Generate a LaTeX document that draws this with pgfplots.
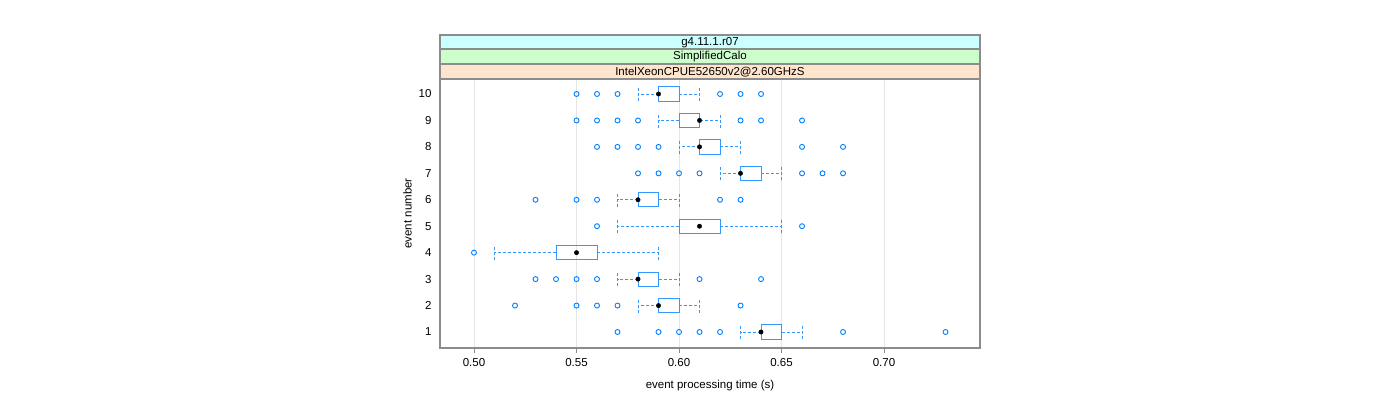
\documentclass[border=0pt]{standalone}
\usepackage{fontspec}
\setmainfont{Liberation Sans}
\usepackage{pgfplots}
\usepgfplotslibrary{statistics}
\pgfplotsset{compat=1.18}
\definecolor{lblue}{HTML}{0080FF}
\definecolor{boxblue}{HTML}{3399FF}
\definecolor{framegray}{HTML}{8C8C8C}
\definecolor{stripA}{HTML}{FFE5CC}
\definecolor{stripB}{HTML}{CCFFCC}
\definecolor{stripC}{HTML}{CCFFFF}
\pgfplotsset{
  bwbox/.style={draw=boxblue, solid, line width=0.9pt, mark=none,
    boxplot/draw direction=x,
    boxplot/box extend=0.54, boxplot/whisker extend=0.54,
    boxplot/every whisker/.style={dash pattern=on 3pt off 2pt},
    boxplot/every median/.style={draw=none}},
}
\begin{document}
\begin{tikzpicture}
\path[use as bounding box] (0,0) rectangle (1400pt,400pt);
\begin{axis}[
  at={(440pt,52pt)}, anchor=south west,
  scale only axis, width=540pt, height=269pt,
  xmin=0.4834, xmax=0.7468, ymin=0.395, ymax=10.567,
  xtick={0.50,0.55,0.60,0.65,0.70},
  xticklabels={0.50,0.55,0.60,0.65,0.70},
  ytick={1,2,3,4,5,6,7,8,9,10},
  yticklabels={1,2,3,4,5,6,7,8,9,10},
  xtick pos=bottom, ytick pos=left,
  tick align=outside, major tick length=5pt,
  x tick style={draw=framegray, line width=0.8pt},
  y tick style={draw=none},
  axis line style={draw=framegray, line width=1.1pt},
  xmajorgrids, grid style={draw=black!10, line width=0.6pt},
  tick label style={font=\fontsize{11.5}{13}\selectfont},
  xticklabel style={yshift=-2pt},
  label style={font=\fontsize{11.5}{13}\selectfont},
  /pgf/number format/assume math mode=true,
  xlabel={event processing time (s)}, ylabel={event number},
  xlabel style={yshift=-7pt},
  clip=false,
]
% boxes and whiskers: lower whisker, lower quartile, median, upper quartile, upper whisker
\addplot[bwbox, boxplot prepared={lower whisker=0.63, lower quartile=0.64, median=0.64, upper quartile=0.65, upper whisker=0.66, draw position=1}] coordinates {};
\addplot[bwbox, boxplot prepared={lower whisker=0.58, lower quartile=0.59, median=0.59, upper quartile=0.60, upper whisker=0.61, draw position=2}] coordinates {};
\addplot[bwbox, boxplot prepared={lower whisker=0.57, lower quartile=0.58, median=0.58, upper quartile=0.59, upper whisker=0.60, draw position=3}] coordinates {};
\addplot[bwbox, boxplot prepared={lower whisker=0.51, lower quartile=0.54, median=0.55, upper quartile=0.56, upper whisker=0.59, draw position=4}] coordinates {};
\addplot[bwbox, boxplot prepared={lower whisker=0.57, lower quartile=0.60, median=0.61, upper quartile=0.62, upper whisker=0.65, draw position=5}] coordinates {};
\addplot[bwbox, boxplot prepared={lower whisker=0.57, lower quartile=0.58, median=0.58, upper quartile=0.59, upper whisker=0.60, draw position=6}] coordinates {};
\addplot[bwbox, boxplot prepared={lower whisker=0.62, lower quartile=0.63, median=0.63, upper quartile=0.64, upper whisker=0.65, draw position=7}] coordinates {};
\addplot[bwbox, boxplot prepared={lower whisker=0.60, lower quartile=0.61, median=0.61, upper quartile=0.62, upper whisker=0.63, draw position=8}] coordinates {};
\addplot[bwbox, boxplot prepared={lower whisker=0.59, lower quartile=0.60, median=0.61, upper quartile=0.61, upper whisker=0.62, draw position=9}] coordinates {};
\addplot[bwbox, boxplot prepared={lower whisker=0.58, lower quartile=0.59, median=0.59, upper quartile=0.60, upper whisker=0.61, draw position=10}] coordinates {};
% outliers
\addplot[only marks, mark=o, mark size=2.5pt, draw=lblue, mark options={draw=lblue, line width=0.9pt}] coordinates {
(0.57,1)(0.59,1)(0.60,1)(0.61,1)(0.62,1)(0.68,1)(0.73,1)
(0.52,2)(0.55,2)(0.56,2)(0.57,2)(0.63,2)
(0.53,3)(0.54,3)(0.55,3)(0.56,3)(0.61,3)(0.64,3)
(0.50,4)
(0.56,5)(0.66,5)
(0.53,6)(0.55,6)(0.56,6)(0.62,6)(0.63,6)
(0.58,7)(0.59,7)(0.60,7)(0.61,7)(0.66,7)(0.67,7)(0.68,7)
(0.56,8)(0.57,8)(0.58,8)(0.59,8)(0.66,8)(0.68,8)
(0.55,9)(0.56,9)(0.57,9)(0.58,9)(0.63,9)(0.64,9)(0.66,9)
(0.55,10)(0.56,10)(0.57,10)(0.62,10)(0.63,10)(0.64,10)
};
% medians
\addplot[only marks, mark=*, mark size=2.2pt, black, mark options={fill=black, draw=black}] coordinates {
(0.64,1)(0.59,2)(0.58,3)(0.55,4)(0.61,5)(0.58,6)(0.63,7)(0.61,8)(0.61,9)(0.59,10)
};
% strips
\draw[framegray, line width=1.1pt, fill=stripA] (rel axis cs:0,1) rectangle ([yshift=15pt]rel axis cs:1,1);
\draw[framegray, line width=1.1pt, fill=stripB] ([yshift=15pt]rel axis cs:0,1) rectangle ([yshift=30pt]rel axis cs:1,1);
\draw[framegray, line width=1.1pt, fill=stripC] ([yshift=30pt]rel axis cs:0,1) rectangle ([yshift=44pt]rel axis cs:1,1);
\node[font=\fontsize{11.5}{13}\selectfont, inner sep=0pt] at ([yshift=7pt]rel axis cs:0.5,1) {IntelXeonCPUE52650v2@2.60GHzS};
\node[font=\fontsize{11.5}{13}\selectfont, inner sep=0pt] at ([yshift=22pt]rel axis cs:0.5,1) {SimplifiedCalo};
\node[font=\fontsize{11.5}{13}\selectfont, inner sep=0pt] at ([yshift=36.5pt]rel axis cs:0.5,1) {g4.11.1.r07};
\draw[framegray, line width=0.8pt] ({axis cs:0.50,0}|-{rel axis cs:0,1}) ++(0,44pt) -- ++(0,6pt);
\draw[framegray, line width=0.8pt] ({axis cs:0.55,0}|-{rel axis cs:0,1}) ++(0,44pt) -- ++(0,6pt);
\draw[framegray, line width=0.8pt] ({axis cs:0.60,0}|-{rel axis cs:0,1}) ++(0,44pt) -- ++(0,6pt);
\draw[framegray, line width=0.8pt] ({axis cs:0.65,0}|-{rel axis cs:0,1}) ++(0,44pt) -- ++(0,6pt);
\draw[framegray, line width=0.8pt] ({axis cs:0.70,0}|-{rel axis cs:0,1}) ++(0,44pt) -- ++(0,6pt);
\end{axis}
\end{tikzpicture}
\end{document}
